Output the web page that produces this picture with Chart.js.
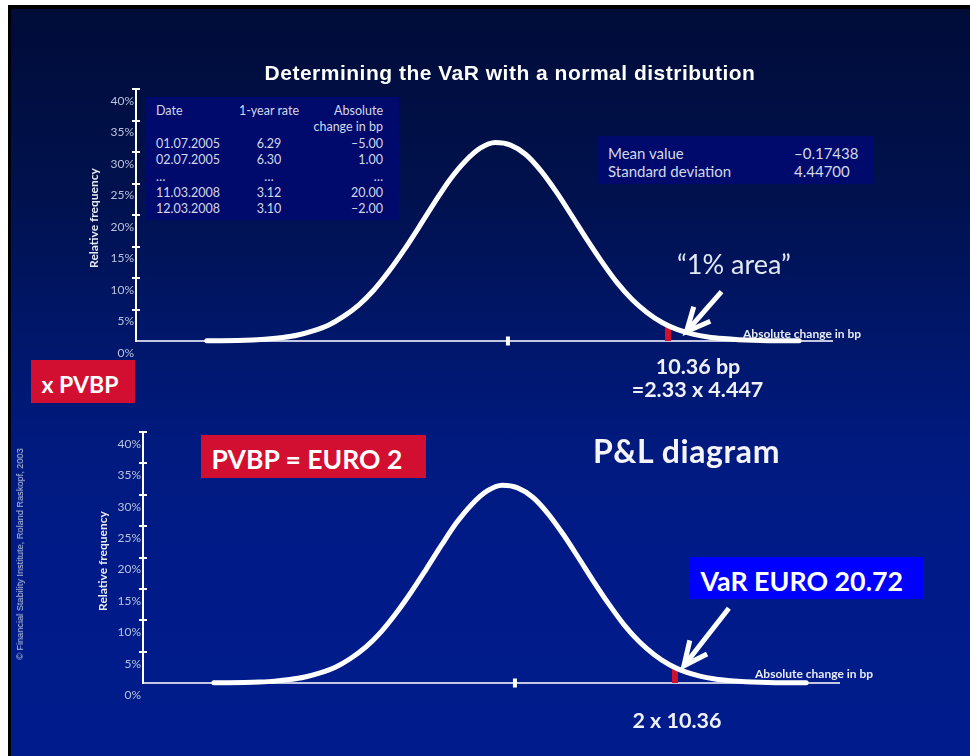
<!DOCTYPE html>
<html><head><meta charset="utf-8">
<script src="https://cdn.jsdelivr.net/npm/chart.js@4"></script>
<style>
html,body{margin:0;padding:0;background:#fff;width:970px;height:756px;overflow:hidden;}
#slide{position:absolute;left:8px;top:5px;width:962px;height:751px;box-sizing:border-box;border-left:3px solid #000;border-top:4px solid #000;
 background:linear-gradient(180deg,#000c38 0%,#00114e 25%,#00176c 45%,#001a80 60%,#001b88 75%,#001c8c 100%);}
canvas{position:absolute;left:0;top:0;}
.t{position:absolute;white-space:pre;line-height:1;}
.b{position:absolute;}
</style></head><body>
<div id="slide"></div>
<canvas id="c1" width="970" height="756"></canvas>
<canvas id="c2" width="970" height="756"></canvas>
<div id="labels"></div>
<script>
// ---- data ----
const changeBp = [-20,-19,-18,-17,-16,-15,-14,-13,-12,-11,-10,-9,-8,-7,-6,-5,-4,-3,-2,-1,0,1,2,3,4,5,6,7,8,9,10,11,12,13,14,15,16,17,18,19];
const relFreq  = [0.02,0.04,0.08,0.16,0.30,0.55,0.95,1.6,2.5,3.9,5.7,8.1,11.1,14.5,18.2,22.0,25.6,28.5,30.6,31.5,31.1,29.6,27.0,23.7,20.0,16.2,12.6,9.3,6.6,4.5,2.9,1.8,1.1,0.65,0.38,0.2,0.1,0.05,0.03,0.02];
const yTickValues = [0,5,10,15,20,25,30,35,40];
const meanValue = -0.17438;
const stdDeviation = 4.447;
const varBp = 10.36;
const xRange = [-24.66, 21.16];
const tableHeader = ['Date','1-year rate','Absolute','change in bp'];
const tableDates = ['01.07.2005','02.07.2005','…','11.03.2008','12.03.2008'];
const tableRates = ['6.29','6.30','…','3.12','3.10'];
const tableChanges = ['–5.00','1.00','…','20.00','–2.00'];
// arrows: [tailX, tailY, tipX, tipY] in data units
const arrowTop = [13.89, 7.83, 11.58, 1.48];
const arrowBottom = [13.91, 11.9, 10.95, 2.75];

function drawArrow(ctx, x1, y1, x2, y2){
  const dx = x1 - x2, dy = y1 - y2, L = Math.hypot(dx, dy);
  const ux = dx / L, uy = dy / L;
  const len = 26, ang = 25 * Math.PI / 180;
  ctx.save();
  ctx.strokeStyle = '#fff'; ctx.lineWidth = 5; ctx.lineCap = 'butt'; ctx.lineJoin = 'miter';
  ctx.beginPath(); ctx.moveTo(x1, y1); ctx.lineTo(x2 + ux * 2, y2 + uy * 2); ctx.stroke();
  ctx.beginPath();
  const c = Math.cos(ang), s = Math.sin(ang);
  ctx.moveTo(x2 + (ux * c - uy * s) * len, y2 + (ux * s + uy * c) * len);
  ctx.lineTo(x2, y2);
  ctx.lineTo(x2 + (ux * c + uy * s) * len, y2 + (-ux * s + uy * c) * len);
  ctx.stroke();
  ctx.restore();
}

const decor = {
  id: 'decor',
  beforeDatasetsDraw(chart, args, opts){
    const {ctx, scales: {x, y}} = chart;
    const y0 = y.getPixelForValue(0);
    const xv = x.getPixelForValue(varBp);
    ctx.save();
    ctx.fillStyle = '#d4102f';
    ctx.fillRect(xv - 3, y0 - 17, 6, 17);
    ctx.restore();
  },
  afterDatasetsDraw(chart, args, opts){
    const {ctx, scales: {x, y}} = chart;
    ctx.save();
    ctx.strokeStyle = '#fff'; ctx.lineWidth = 2;
    yTickValues.forEach(v => {
      if (v === 0) return;
      const py = Math.round(y.getPixelForValue(v));
      ctx.beginPath(); ctx.moveTo(x.left - 4, py); ctx.lineTo(x.left + 4, py); ctx.stroke();
    });
    const y0 = y.getPixelForValue(0);
    const xm = x.getPixelForValue(meanValue);
    ctx.fillStyle = '#fff';
    ctx.fillRect(xm - 2, y0 - 4.5, 4, 9);
    const a = opts.arrow;
    drawArrow(ctx, x.getPixelForValue(a[0]), y.getPixelForValue(a[1]), x.getPixelForValue(a[2]), y.getPixelForValue(a[3]));
    ctx.restore();
  }
};

function makeChart(id, pad, arrow){
  return new Chart(document.getElementById(id), {
    type: 'line',
    data: { datasets: [{
      data: changeBp.map((v, i) => ({x: v, y: relFreq[i]})),
      borderColor: '#ffffff', borderWidth: 5, pointRadius: 0, fill: false,
      cubicInterpolationMode: 'monotone', clip: false, borderCapStyle: 'round', borderJoinStyle: 'round'
    }]},
    options: {
      responsive: false, animation: false, events: [],
      layout: { padding: pad },
      plugins: { legend: {display: false}, tooltip: {enabled: false}, title: {display: false}, decor: {arrow} },
      scales: {
        x: { type: 'linear', min: xRange[0], max: xRange[1],
             grid: {display: false, drawTicks: false},
             border: {display: true, color: '#c2c8e2', width: 2},
             ticks: {display: false},
             afterFit(s){ s.height = 0; } },
        y: { type: 'linear', min: 0, max: 40,
             afterBuildTicks(s){ s.ticks = yTickValues.map(v => ({value: v})); },
             grid: {display: false, drawTicks: false},
             border: {display: true, color: '#ffffff', width: 2},
             ticks: { color: '#bcc2dc', font: {family: 'Lato', size: 12}, padding: 2, labelOffset: 12,
                      autoSkip: false, callback: v => v + '%' },
             afterFit(s){ s.width = 40; } }
      }
    },
    plugins: [decor]
  });
}

makeChart('c1', {left: 96, top: 89, right: 138, bottom: 415}, arrowTop);
makeChart('c2', {left: 103, top: 432, right: 131, bottom: 73}, arrowBottom);

// ---- slide texts ----
const LBL = document.getElementById('labels');
function T(txt, x, base, o){
  const d = document.createElement('div'); d.className = 't'; d.textContent = txt;
  const fs = o.size, fam = o.fam || 'Lato';
  const k = fam.startsWith('Liberation') ? 0.8465 : 0.887;
  d.style.font = (o.weight || 400) + ' ' + fs + 'px "' + fam + '"';
  d.style.color = o.color || '#ffffff';
  if (o.ls) d.style.letterSpacing = o.ls + 'px';
  d.style.top = (base - k * fs) + 'px';
  if (o.align === 'center'){ d.style.left = x + 'px'; d.style.transform = 'translateX(-50%)'; }
  else if (o.align === 'right'){ d.style.right = (970 - x) + 'px'; }
  else d.style.left = x + 'px';
  LBL.appendChild(d); return d;
}
function V(txt, cx, cy, o){
  const d = document.createElement('div'); d.className = 't'; d.textContent = txt;
  d.style.font = (o.weight || 400) + ' ' + o.size + 'px "' + (o.fam || 'Lato') + '"';
  d.style.color = o.color || '#fff';
  d.style.left = cx + 'px'; d.style.top = cy + 'px';
  d.style.transform = 'translate(-50%,-50%) rotate(-90deg)';
  LBL.appendChild(d); return d;
}
function B(x, y, w, h, c){
  const d = document.createElement('div'); d.className = 'b';
  d.style.left = x + 'px'; d.style.top = y + 'px'; d.style.width = w + 'px'; d.style.height = h + 'px'; d.style.background = c;
  LBL.appendChild(d);
}

T('Determining the VaR with a normal distribution', 510, 78.3, {size: 21, weight: 700, fam: 'Liberation Sans', align: 'center', ls: 0.5});

// data table box
B(146, 97, 253, 123, '#000a6c');
const tc = '#d4d8e8';
T(tableHeader[0], 156, 114.3, {size: 12.5, color: tc});
T(tableHeader[1], 269, 114.3, {size: 12.5, color: tc, align: 'center'});
T(tableHeader[2], 383, 114.3, {size: 12.5, color: tc, align: 'right'});
T(tableHeader[3], 383, 130.5, {size: 12.5, color: tc, align: 'right'});
tableDates.forEach((d, i) => {
  const base = 147.3 + i * 16.2;
  T(d, 156, base, {size: 12.5, color: tc});
  T(tableRates[i], 269, base, {size: 12.5, color: tc, align: 'center'});
  T(tableChanges[i], 383, base, {size: 12.5, color: tc, align: 'right'});
});

// statistics box
B(598, 136, 276, 48, '#000a6c');
T('Mean value', 608, 157.3, {size: 15, color: tc});
T('–' + Math.abs(meanValue).toFixed(5), 794, 157.3, {size: 15, color: tc});
T('Standard deviation', 608, 175.7, {size: 15, color: tc});
T(stdDeviation.toFixed(5), 794, 175.7, {size: 15, color: tc});

T('“1% area”', 677, 270.7, {size: 27, color: '#e4e8f4'});
T('Absolute change in bp', 743, 336.7, {size: 12, weight: 700, color: '#e8eaf4'});
T(varBp.toFixed(2) + ' bp', 698, 371.7, {size: 21.5, weight: 700, color: '#f0f0f8', align: 'center'});
T('=2.33 x ' + stdDeviation.toFixed(3), 697.5, 395, {size: 21.5, weight: 700, color: '#f0f0f8', align: 'center'});
V('Relative frequency', 93, 218, {size: 12, weight: 700, color: '#e8eaf4'});

B(31, 360, 104, 43, '#d20f30');
T('x PVBP', 41.5, 390.7, {size: 23, weight: 700});

V('© Financial Stability Institute, Roland Raskopf, 2003', 20, 554, {size: 9.2, fam: 'Liberation Sans', color: '#c0c6dc'});

B(201, 435, 225, 43, '#d20f30');
T('PVBP = EURO 2', 211.5, 466.7, {size: 26.5, weight: 700});
T('P&L diagram', 593, 459.3, {size: 32, weight: 700, color: '#f4f4fa', ls: 0.6});
B(690, 557, 233, 42, '#0000ff');
T('VaR EURO 20.72', 700.5, 588.3, {size: 26.8, weight: 700});
V('Relative frequency', 102, 561, {size: 12, weight: 700, color: '#e8eaf4'});
T('Absolute change in bp', 755, 676.7, {size: 12, weight: 700, color: '#e8eaf4'});
T('2 x ' + varBp.toFixed(2), 677, 726, {size: 21.5, weight: 700, color: '#f0f0f8', align: 'center'});
</script>
</body></html>
